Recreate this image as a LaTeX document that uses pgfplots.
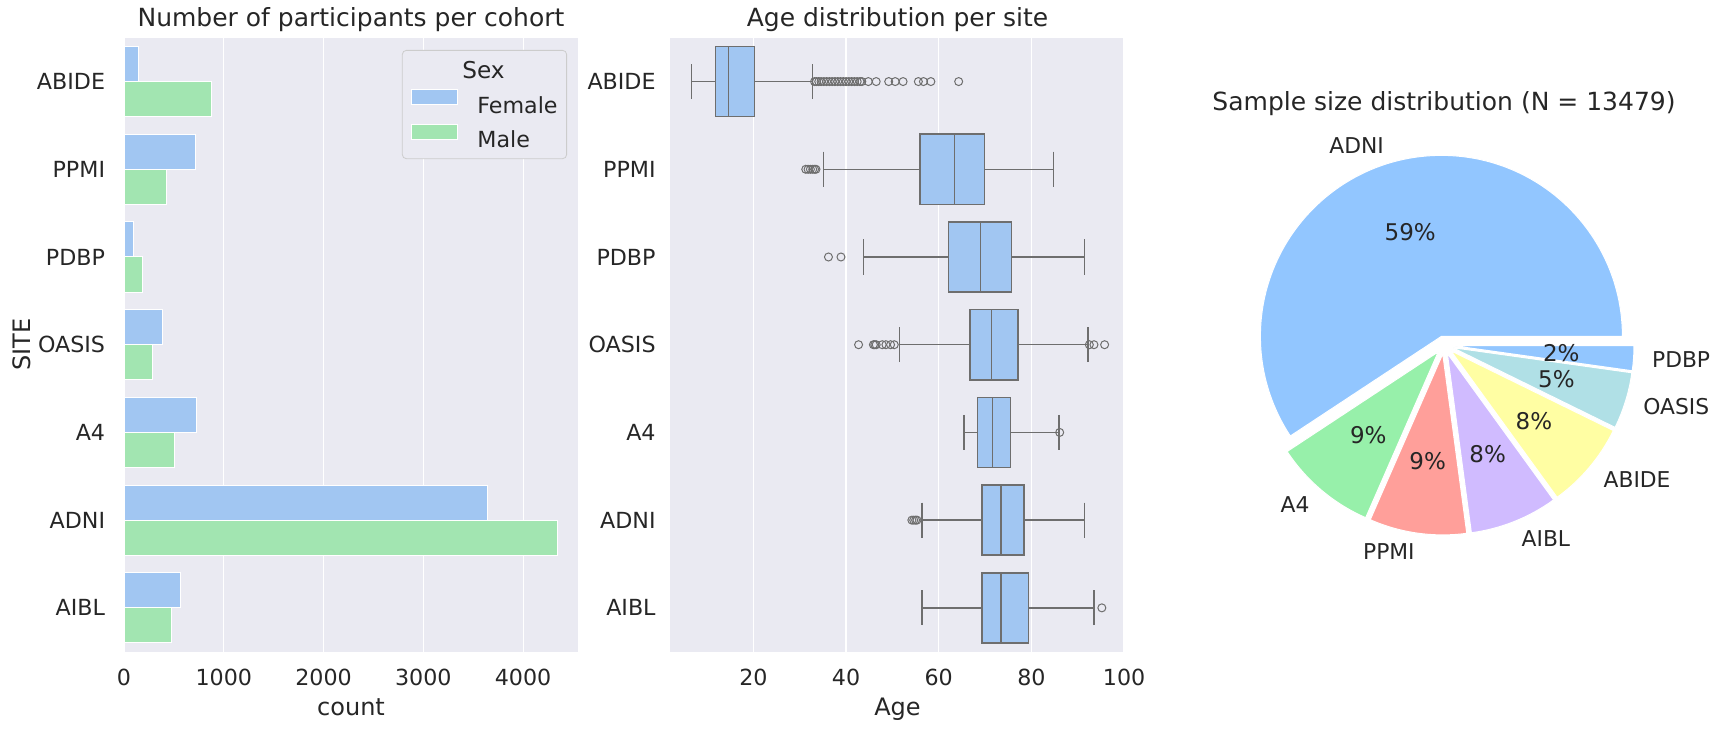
\documentclass[border=0pt]{standalone}
\usepackage{fontspec}
\setmainfont{DejaVu Sans}
\usepackage{pgfplots}
\usepackage{pgfplotstable}
\pgfplotsset{compat=1.18}
\usepgfplotslibrary{statistics}
\usetikzlibrary{calc}

\definecolor{bgcol}{HTML}{EAEAF2}
\definecolor{txt}{HTML}{262626}
\definecolor{female}{HTML}{A1C6F2}
\definecolor{male}{HTML}{A2E5B1}
\definecolor{boxline}{HTML}{6E6E6E}
\definecolor{legdraw}{HTML}{CCCCCC}
\definecolor{pblue}{HTML}{92C6FF}
\definecolor{pgreen}{HTML}{97F0AA}
\definecolor{pred}{HTML}{FF9F9A}
\definecolor{ppurple}{HTML}{D0BBFF}
\definecolor{pyellow}{HTML}{FFFEA3}
\definecolor{pcyan}{HTML}{B0E0E6}

\newcommand\ticksize{\fontsize{11.1}{13}\selectfont}
\newcommand\labsize{\fontsize{12}{14}\selectfont}
\newcommand\titsize{\fontsize{12.5}{15}\selectfont}
\newcommand\pielab{\fontsize{10.9}{13}\selectfont}
\newcommand\piepct{\fontsize{11.5}{13}\selectfont}

% participants per cohort and sex
\pgfplotstableread{
pos female male
0 146 880
1 720 430
2 99 190
3 385 285
4 725 505
5 3640 4340
6 565 475
}\counts

% one pie wedge: start count, count, colour, label, percent
\newcommand\piewedge[5]{%
  \pgfmathsetmacro\aS{360*(#1/13479)}%
  \pgfmathsetmacro\aE{360*((#1+#2)/13479)}%
  \pgfmathsetmacro\aM{(\aS+\aE)/2}%
  \pgfmathtruncatemacro\isright{cos(\aM)>0}%
  \ifnum\isright=1 \def\anc{west}\else\def\anc{east}\fi
  \edef\doit{%
    \noexpand\fill[#3, draw=white, line width=0.5pt] (axis cs:0,0) ++(\aM:4.5pt) -- ++(\aS:90.5pt)
      arc[start angle=\aS, end angle=\aE, radius=90.5pt] -- cycle;
    \noexpand\node[anchor=\anc, font=\noexpand\pielab, text=txt, inner sep=0pt]
      at ($(axis cs:0,0)+(\aM:104.1pt)$) {#4};
    \noexpand\node[font=\noexpand\piepct, text=txt, inner sep=0pt]
      at ($(axis cs:0,0)+(\aM:58.8pt)$) {#5\noexpand\%};
  }%
  \doit
}

\pgfplotsset{
  sns/.style={
    scale only axis, width=227pt, height=307pt,
    axis background/.style={fill=bgcol},
    axis line style={draw=none},
    tick style={draw=none},
    xmajorgrids,
    major grid style={white, line width=0.6pt},
    ymin=-0.5, ymax=6.5, y dir=reverse,
    ytick={0,...,6},
    yticklabels={ABIDE,PPMI,PDBP,OASIS,A4,ADNI,AIBL},
    tick label style={font=\ticksize, text=txt},
    xticklabel style={anchor=base, yshift=-16.65pt},
    yticklabel style={anchor=east, inner sep=0pt},
    xlabel style={font=\labsize, text=txt, at={(axis description cs:0.5,-0.1031)}, anchor=base},
    title style={font=\titsize, text=txt, at={(axis description cs:0.5,1.0288)}, anchor=center, yshift=-6pt},
    /pgf/number format/assume math mode=true,
    /pgf/number format/1000 sep={},
  },
  boxst/.style={
    boxplot/draw direction=x,
    boxplot/box extend=0.8,
    boxplot/whisker extend=0.4,
    draw=boxline, fill=female, line width=0.75pt, solid,
    mark=o, mark size=2pt,
    mark options={draw=boxline, line width=0.5pt},
  },
}

\begin{document}
\begin{tikzpicture}
\useasboundingbox (0,0) rectangle (862.5pt,364.5pt);

% ---- counts per cohort
\begin{axis}[sns, at={(62pt,38.65pt)}, anchor=south west,
  xbar, bar width=0.4,
  xmin=0, xmax=4550, xtick={0,1000,2000,3000,4000},
  yticklabel style={xshift=-5pt},
  xlabel={count}, ylabel={SITE},
  ylabel style={font=\labsize, text=txt, at={(axis description cs:-0.2258,0.5)}, anchor=center},
  title={Number of participants per cohort},
  legend cell align=left,
  legend style={at={(0.9758,0.98)}, anchor=north east, fill=bgcol, draw=legdraw,
    rounded corners=2pt, font=\ticksize, text=txt,
    inner xsep=4.5pt, inner ysep=5.5pt, row sep=5.3pt, column sep=9.5pt,
    nodes={inner sep=0pt, text depth=0pt}},
  ]
\addlegendimage{empty legend}
\addlegendentry{\hspace*{-7.5pt}\fontsize{11.6}{13}\selectfont Sex}
\addplot[fill=female, draw=white, line width=0.5pt, bar shift=-0.2,
  legend image code/.code={\filldraw[fill=female, draw=white, line width=0.5pt, sharp corners] (0pt,0pt) rectangle (23pt,7.5pt);}]
  table[x=female, y=pos] {\counts};
\addlegendentry{Female}
\addplot[fill=male, draw=white, line width=0.5pt, bar shift=0.2,
  legend image code/.code={\filldraw[fill=male, draw=white, line width=0.5pt, sharp corners] (0pt,0pt) rectangle (23pt,7.5pt);}]
  table[x=male, y=pos] {\counts};
\addlegendentry{Male}
\end{axis}

% ---- age per site
\begin{axis}[sns, at={(335pt,38.65pt)}, anchor=south west, width=227.5pt,
  xmin=2, xmax=100.2, xtick={20,40,60,80,100},
  yticklabel style={xshift=-7pt},
  xlabel={Age},
  title={Age distribution per site},
  ]
\addplot[boxst, boxplot prepared={draw position=0, lower whisker=6.6, lower quartile=11.8,
  median=14.6, upper quartile=20.2, upper whisker=32.8}]
  table[row sep=\\, y index=0] {v\\ 33.2\\ 33.6\\ 34.1\\ 34.6\\ 35.2\\ 35.8\\ 36.4\\ 37.0\\ 37.6\\
  38.2\\ 38.8\\ 39.4\\ 40.0\\ 40.6\\ 41.2\\ 41.8\\ 42.4\\ 43.0\\ 43.4\\ 44.8\\ 46.5\\
  49.2\\ 50.6\\ 52.3\\ 55.6\\ 56.7\\ 58.3\\ 64.3\\};
\addplot[boxst, boxplot prepared={draw position=1, lower whisker=35.1, lower quartile=55.9,
  median=63.4, upper quartile=69.9, upper whisker=84.8}]
  table[row sep=\\, y index=0] {v\\ 31.3\\ 31.8\\ 32.3\\ 32.8\\ 33.2\\ 33.5\\};
\addplot[boxst, boxplot prepared={draw position=2, lower whisker=43.8, lower quartile=62.1,
  median=69.0, upper quartile=75.7, upper whisker=91.5}]
  table[row sep=\\, y index=0] {v\\ 36.2\\ 38.9\\};
\addplot[boxst, boxplot prepared={draw position=3, lower whisker=51.5, lower quartile=66.7,
  median=71.4, upper quartile=77.1, upper whisker=92.2}]
  table[row sep=\\, y index=0] {v\\ 42.7\\ 45.9\\ 46.2\\ 46.5\\ 47.8\\ 48.6\\ 49.6\\ 50.4\\ 92.5\\ 93.5\\ 95.8\\};
\addplot[boxst, boxplot prepared={draw position=4, lower whisker=65.4, lower quartile=68.4,
  median=71.6, upper quartile=75.5, upper whisker=85.9}]
  table[row sep=\\, y index=0] {v\\ 86.1\\};
\addplot[boxst, boxplot prepared={draw position=5, lower whisker=56.4, lower quartile=69.3,
  median=73.4, upper quartile=78.4, upper whisker=91.5}]
  table[row sep=\\, y index=0] {v\\ 54.2\\ 54.6\\ 55.0\\ 55.3\\};
\addplot[boxst, boxplot prepared={draw position=6, lower whisker=56.4, lower quartile=69.3,
  median=73.4, upper quartile=79.4, upper whisker=93.5}]
  table[row sep=\\, y index=0] {v\\ 95.2\\};
\end{axis}

% ---- sample size pie
\begin{axis}[at={(722pt,192pt)}, anchor=center, hide axis,
  x=90.5pt, y=90.5pt, xmin=-1, xmax=1, ymin=-1, ymax=1, clip=false]
\addplot[draw=none] coordinates {(0,0)};
\piewedge{0}{7990}{pblue}{ADNI}{59}
\piewedge{7990}{1235}{pgreen}{A4}{9}
\piewedge{9225}{1170}{pred}{PPMI}{9}
\piewedge{10395}{1060}{ppurple}{AIBL}{8}
\piewedge{11455}{1045}{pyellow}{ABIDE}{8}
\piewedge{12500}{680}{pcyan}{OASIS}{5}
\piewedge{13180}{299}{pblue}{PDBP}{2}
\node[font=\titsize, text=txt] at (axis cs:0,1.336) {Sample size distribution (N = 13479)};
\end{axis}
\end{tikzpicture}
\end{document}
